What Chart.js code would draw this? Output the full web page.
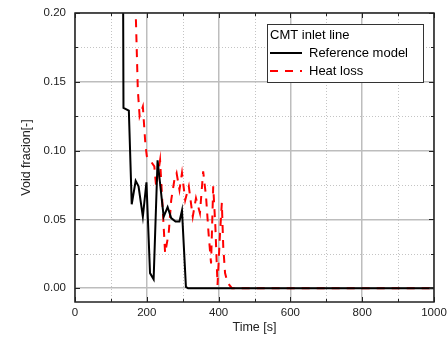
<!DOCTYPE html>
<html>
<head>
<meta charset="utf-8">
<script src="https://cdn.jsdelivr.net/npm/chart.js@4"></script>
<style>
html, body { margin: 0; padding: 0; background: #fff; }
</style>
</head>
<body>
<canvas id="voidChart" width="448" height="345"></canvas>
<script>
// Data
const refTime = [133, 135, 150, 158, 169, 177, 189, 199, 209, 219, 230, 247, 258, 268, 280, 291, 298, 309, 315, 1000];
const refVoid = [0.30, 0.131, 0.129, 0.061, 0.078, 0.074, 0.052, 0.077, 0.011, 0.0065, 0.093, 0.052, 0.059, 0.051, 0.0485, 0.0485, 0.0565, 0.001, 0, 0];

const heatTime = [164, 175, 180, 189, 196, 200, 212, 221, 226, 237, 244, 251, 261, 268, 277, 283, 291, 298, 307, 317, 328, 337, 348, 357, 365, 372, 379, 385, 391, 397, 404, 409, 413, 418, 425, 437, 1000];
const heatVoid = [0.25, 0.144, 0.125, 0.132, 0.105, 0.096, 0.092, 0.0885, 0.074, 0.093, 0.059, 0.0255, 0.04, 0.064, 0.079, 0.0837, 0.0715, 0.0837, 0.064, 0.074, 0.052, 0.0655, 0.0546, 0.0849, 0.0667, 0.040, 0.018, 0.074, 0.0448, 0.0024, 0.04, 0.062, 0.03, 0.011, 0.004, 0, 0];

const xTicks = [0, 200, 400, 600, 800, 1000];
const xMinor = [100, 300, 500, 700, 900];
const yTicks = [0, 0.05, 0.10, 0.15, 0.20];
const yMinor = [0.025, 0.075, 0.125, 0.175];

const legendTitle = 'CMT inlet line';
const seriesNames = ['Reference model', 'Heat loss'];

const FONT = '"Liberation Sans", Arial, sans-serif';

// minor grid, frame, inward ticks and boxed legend
const framePlugin = {
    id: 'frame',
    beforeDatasetsDraw(chart) {
        const { ctx, chartArea: a, scales: { x, y } } = chart;
        ctx.save();
        ctx.strokeStyle = '#c4c4c4';
        ctx.lineWidth = 1;
        ctx.setLineDash([1, 2]);
        xMinor.forEach(v => {
            const px = Math.round(x.getPixelForValue(v)) + 0.5;
            ctx.beginPath(); ctx.moveTo(px, a.top); ctx.lineTo(px, a.bottom); ctx.stroke();
        });
        yMinor.forEach(v => {
            const py = Math.round(y.getPixelForValue(v)) + 0.5;
            ctx.beginPath(); ctx.moveTo(a.left, py); ctx.lineTo(a.right, py); ctx.stroke();
        });
        ctx.restore();
    },
    afterDraw(chart) {
        const { ctx, chartArea: a, scales: { x, y } } = chart;
        ctx.save();
        ctx.strokeStyle = '#222';
        ctx.lineWidth = 1.5;
        ctx.strokeRect(a.left, a.top, a.right - a.left, a.bottom - a.top);

        ctx.lineWidth = 1;
        const tick = (vals, len) => {
            vals.forEach(v => {
                const px = Math.round(x.getPixelForValue(v)) + 0.5;
                ctx.beginPath();
                ctx.moveTo(px, a.bottom); ctx.lineTo(px, a.bottom - len);
                ctx.moveTo(px, a.top); ctx.lineTo(px, a.top + len);
                ctx.stroke();
            });
        };
        const tickY = (vals, len) => {
            vals.forEach(v => {
                const py = Math.round(y.getPixelForValue(v)) + 0.5;
                ctx.beginPath();
                ctx.moveTo(a.left, py); ctx.lineTo(a.left + len, py);
                ctx.moveTo(a.right, py); ctx.lineTo(a.right - len, py);
                ctx.stroke();
            });
        };
        tick(xTicks, 5); tick(xMinor, 3);
        tickY(yTicks, 5); tickY(yMinor, 3);

        // legend box
        const lx = a.right - 167, ly = a.top + 11, lw = 156, lh = 58;
        ctx.fillStyle = '#fff';
        ctx.fillRect(lx, ly, lw, lh);
        ctx.strokeStyle = '#333';
        ctx.lineWidth = 1;
        ctx.strokeRect(lx + 0.5, ly + 0.5, lw, lh);

        ctx.fillStyle = '#000';
        ctx.font = '13px ' + FONT;
        ctx.textBaseline = 'middle';
        ctx.textAlign = 'left';
        ctx.fillText(legendTitle, lx + 3, ly + 11);

        const ds = chart.data.datasets;
        [ly + 29, ly + 47].forEach((yy, i) => {
            ctx.strokeStyle = ds[i].borderColor;
            ctx.lineWidth = 2;
            ctx.setLineDash(ds[i].borderDash || []);
            ctx.beginPath(); ctx.moveTo(lx + 3, yy); ctx.lineTo(lx + 35, yy); ctx.stroke();
            ctx.setLineDash([]);
            ctx.fillStyle = '#000';
            ctx.fillText(seriesNames[i], lx + 42, yy);
        });
        ctx.restore();
    }
};

const toPoints = (xs, ys) => xs.map((t, i) => ({ x: t, y: ys[i] }));

new Chart(document.getElementById('voidChart'), {
    type: 'line',
    data: {
        datasets: [{
            label: seriesNames[0],
            data: toPoints(refTime, refVoid),
            borderColor: '#000000',
            borderWidth: 2,
            pointRadius: 0,
            tension: 0
        }, {
            label: seriesNames[1],
            data: toPoints(heatTime, heatVoid),
            borderColor: '#ff0000',
            borderWidth: 2,
            borderDash: [8, 7],
            pointRadius: 0,
            tension: 0
        }]
    },
    options: {
        responsive: false,
        animation: false,
        layout: { padding: { left: 15, right: 14, top: 13, bottom: 6 } },
        plugins: {
            legend: { display: false },
            tooltip: { enabled: false }
        },
        scales: {
            x: {
                type: 'linear',
                min: 0,
                max: 1000,
                afterBuildTicks: s => { s.ticks = xTicks.map(v => ({ value: v })); },
                afterFit: s => { s.height = 37; s.paddingLeft = 0; s.paddingRight = 0; },
                grid: { color: '#bdbdbd', lineWidth: 1.5, drawTicks: false },
                border: { display: false },
                ticks: { padding: 4, maxRotation: 0, color: '#222', font: { family: FONT, size: 11.5 }, callback: v => String(v) },
                title: { display: true, text: 'Time [s]', color: '#222', font: { family: FONT, size: 12.5 }, padding: { top: 2, bottom: 4 } }
            },
            y: {
                min: -0.01,
                max: 0.20,
                afterBuildTicks: s => { s.ticks = yTicks.map(v => ({ value: v })); },
                afterFit: s => { s.width = 60; s.paddingTop = 0; s.paddingBottom = 0; },
                grid: { color: '#bdbdbd', lineWidth: 1.5, drawTicks: false },
                border: { display: false },
                ticks: { padding: 9, color: '#222', font: { family: FONT, size: 11.5 }, callback: v => v.toFixed(2) },
                title: { display: true, text: 'Void fracion[-]', color: '#222', font: { family: FONT, size: 12.5 }, padding: { top: 4, bottom: 4 } }
            }
        }
    },
    plugins: [framePlugin]
});
</script>
</body>
</html>
